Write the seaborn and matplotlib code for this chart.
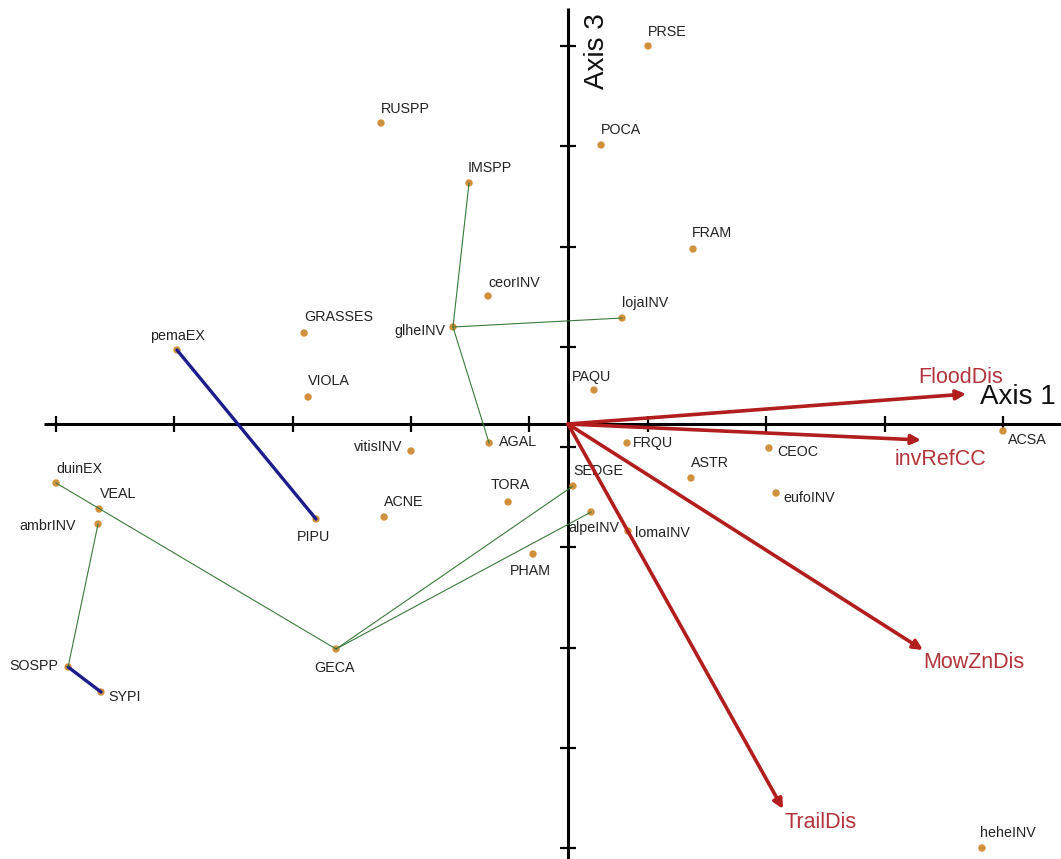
import matplotlib.pyplot as plt
import numpy as np
import pandas as pd
import seaborn as sb

# species scores (axis 1 / axis 3)
species = ["PRSE", "RUSPP", "POCA", "IMSPP", "FRAM", "ceorINV", "lojaINV", "glheINV",
           "GRASSES", "pemaEX", "VIOLA", "PAQU", "AGAL", "vitisINV", "FRQU", "CEOC",
           "ACSA", "SEDGE", "ASTR", "eufoINV", "TORA", "ACNE", "PIPU", "alpeINV",
           "lomaINV", "PHAM", "duinEX", "VEAL", "ambrINV", "SOSPP", "SYPI", "GECA", "heheINV"]
axis1 = [0.678, -1.585, 0.280, -0.839, 1.059, -0.678, 0.458, -0.975,
         -2.237, -3.314, -2.203, 0.220, -0.669, -1.331, 0.500, 1.703,
         3.686, 0.042, 1.042, 1.763, -0.508, -1.559, -2.136, 0.195,
         0.508, -0.297, -4.339, -3.975, -3.983, -4.237, -3.958, -1.966, 3.508]
axis3 = [3.78, 3.01, 2.79, 2.41, 1.75, 1.28, 1.06, 0.97,
         0.91, 0.74, 0.27, 0.34, -0.19, -0.27, -0.19, -0.24,
         -0.07, -0.62, -0.54, -0.69, -0.78, -0.93, -0.95, -0.88,
         -1.07, -1.30, -0.59, -0.85, -1.00, -2.43, -2.68, -2.25, -4.24]

# joint-plot vectors
env_vars = ["FloodDis", "invRefCC", "MowZnDis", "TrailDis"]
env_axis1 = [3.373, 2.992, 3.008, 1.822]
env_axis3 = [0.30, -0.16, -2.26, -3.85]

# links between species
blue_links = [("pemaEX", "PIPU"), ("SOSPP", "SYPI")]
green_links = [("glheINV", "IMSPP"), ("glheINV", "lojaINV"), ("glheINV", "AGAL"),
               ("duinEX", "GECA"), ("GECA", "SEDGE"), ("GECA", "alpeINV"),
               ("ambrINV", "SOSPP")]

# label placement (pixel offset, alignment)
label_pos = {
    "PRSE": (0, 14, "left"), "RUSPP": (0, 14, "left"), "POCA": (0, 15, "left"),
    "IMSPP": (-1, 15, "left"), "FRAM": (-1, 16, "left"), "ceorINV": (0, 13, "left"),
    "lojaINV": (0, 15, "left"), "glheINV": (-8, -4, "right"), "GRASSES": (0, 16, "left"),
    "pemaEX": (0, 14, "center"), "VIOLA": (0, 16, "left"), "PAQU": (-2, 13, "center"),
    "AGAL": (10, 1, "left"), "vitisINV": (-9, 4, "right"), "FRQU": (6, 0, "left"),
    "CEOC": (8, -4, "left"), "ACSA": (5, -9, "left"), "SEDGE": (0, 15, "left"),
    "ASTR": (0, 15, "left"), "eufoINV": (7, -5, "left"), "TORA": (2, 17, "center"),
    "ACNE": (0, 15, "left"), "PIPU": (-2, -18, "center"), "alpeINV": (3, -16, "center"),
    "lomaINV": (7, -2, "left"), "PHAM": (-3, -17, "center"), "duinEX": (0, 14, "left"),
    "VEAL": (1, 15, "left"), "ambrINV": (-22, -2, "right"), "SOSPP": (-10, 1, "right"),
    "SYPI": (7, -5, "left"), "GECA": (-2, -19, "center"), "heheINV": (-2, 15, "left"),
}
env_label_pos = {
    "FloodDis": (-5, 17, "center"), "invRefCC": (19, -19, "center"),
    "MowZnDis": (0, -13, "left"), "TrailDis": (1, -13, "left"),
}

if __name__ == "__main__":
    sb.set_style("white")
    plt.rcParams["font.family"] = ["Liberation Sans", "DejaVu Sans"]

    df = pd.DataFrame({"name": species, "ax1": axis1, "ax3": axis3})
    pos = df.set_index("name")

    fig = plt.figure(figsize=(10.61, 8.59), dpi=100)
    ax = fig.add_axes([0, 0, 1, 1])
    ax.set_xlim(-4.814, 4.178)
    ax.set_ylim(-4.35, 4.24)
    ax.axis("off")

    # axes through the origin
    ax.plot([-4.44, 4.3], [0, 0], color="black", lw=2.2, zorder=1, solid_capstyle="butt")
    ax.plot([0, 0], [-4.5, 4.16], color="black", lw=2.2, zorder=1, solid_capstyle="butt")
    xt = np.linspace(df["ax1"].min(), df["ax1"].max(), 9)
    yt = np.linspace(df["ax3"].min(), df["ax3"].max(), 9)
    ax.scatter(xt, np.zeros_like(xt), marker="|", s=130, linewidths=1.6, color="black", zorder=1)
    ax.scatter(np.zeros_like(yt), yt, marker="_", s=130, linewidths=1.6, color="black", zorder=1)
    ax.text(3.49, 0.27, "Axis 1", fontsize=20, va="center", ha="left", color="#111111")
    ax.text(0.246, 3.73, "Axis 3", fontsize=20, va="center", ha="center", rotation=90,
            color="#111111")

    # species points
    sb.scatterplot(data=df, x="ax1", y="ax3", color="#d0903c", s=28, edgecolor="none",
                   ax=ax, zorder=3, legend=False)
    ax.set_xlabel("")
    ax.set_ylabel("")

    for a, b in blue_links:
        ax.plot([pos.loc[a, "ax1"], pos.loc[b, "ax1"]], [pos.loc[a, "ax3"], pos.loc[b, "ax3"]],
                color="#1c1c8c", lw=2.4, zorder=4)
    for a, b in green_links:
        ax.plot([pos.loc[a, "ax1"], pos.loc[b, "ax1"]], [pos.loc[a, "ax3"], pos.loc[b, "ax3"]],
                color="#3b7a3b", lw=0.8, zorder=4)

    for name, x, y in zip(species, axis1, axis3):
        dx, dy, ha = label_pos[name]
        ax.annotate(name, (x, y), xytext=(dx, dy), textcoords="offset pixels",
                    ha=ha, va="center", fontsize=10.3, color="#222222", zorder=5)

    # environmental vectors
    for name, x, y in zip(env_vars, env_axis1, env_axis3):
        ax.annotate("", xy=(x, y), xytext=(0, 0),
                    arrowprops=dict(arrowstyle="-|>", color="#b21e1e", lw=2.6,
                                    mutation_scale=14, shrinkA=0, shrinkB=0),
                    zorder=6)
        dx, dy, ha = env_label_pos[name]
        ax.annotate(name, (x, y), xytext=(dx, dy), textcoords="offset pixels",
                    ha=ha, va="center", fontsize=15.5, color="#b3343c", zorder=6)

    plt.savefig("out.png", dpi=100)
    plt.close()
